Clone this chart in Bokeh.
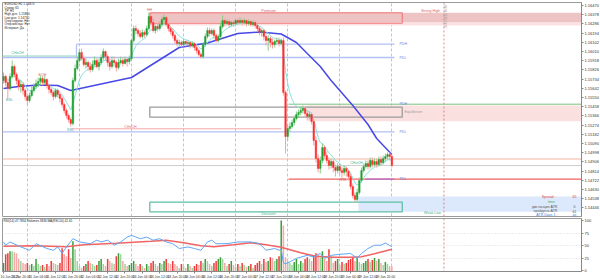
import numpy as np
import pandas as pd
from math import pi
from bokeh.plotting import figure
from bokeh.layouts import column
from bokeh.models import Range1d, FixedTicker, PrintfTickFormatter, Label, Span, ColumnDataSource
from bokeh.embed import file_html
from bokeh.resources import INLINE

# ---------------- data (EURUSD, H1) ----------------
first_open = 1.1572
close = [1.1576,1.1570,1.1564,1.1576,1.1586,1.1578,1.1572,1.1566,1.1568,1.1562,
         1.1556,1.1552,1.1557,1.1562,1.1566,1.1569,1.1571,1.1574,1.1570,1.1573,
         1.1567,1.1563,1.1560,1.1556,1.1562,1.1558,1.1554,1.1548,1.1542,1.1537,
         1.1533,1.1529,1.1572,1.1584,1.1592,1.1600,1.1594,1.1588,1.1590,1.1586,
         1.1583,1.1588,1.1592,1.1586,1.1590,1.1595,1.1601,1.1596,1.1590,1.1586,
         1.1592,1.1590,1.1585,1.1590,1.1592,1.1589,1.1593,1.1591,1.1594,1.1612,
         1.1624,1.1622,1.1619,1.1616,1.1620,1.1618,1.1624,1.1636,1.1630,1.1622,
         1.1626,1.1624,1.1628,1.1633,1.1635,1.1628,1.1624,1.1621,1.1617,1.1612,
         1.1609,1.1610,1.1608,1.1611,1.1609,1.1610,1.1607,1.1609,1.1605,1.1602,
         1.1598,1.1596,1.1608,1.1616,1.1622,1.1619,1.1622,1.1617,1.1612,1.1616,
         1.1626,1.1632,1.1629,1.1631,1.1628,1.1630,1.1629,1.1632,1.1630,1.1632,
         1.1630,1.1632,1.1629,1.1631,1.1628,1.1630,1.1627,1.1624,1.1620,1.1622,
         1.1616,1.1612,1.1614,1.1610,1.1608,1.1611,1.1612,1.1609,1.1612,1.1560,
         1.1516,1.1524,1.1526,1.1530,1.1534,1.1538,1.1540,1.1542,1.1544,1.1539,
         1.1536,1.1538,1.1531,1.1512,1.1494,1.1484,1.1492,1.1505,1.1497,1.1492,
         1.1487,1.1491,1.1485,1.1482,1.1486,1.1482,1.1480,1.1484,1.1481,1.1476,
         1.1466,1.1457,1.1453,1.1460,1.1472,1.1482,1.1486,1.1489,1.1486,1.1492,
         1.1488,1.1491,1.1488,1.1493,1.1490,1.1494,1.1496,1.1498,1.1496,1.1487]
high = [1.1580,1.1578,1.1572,1.1579,1.1592,1.1588,1.1580,1.1574,1.1572,1.1570,
        1.1564,1.1558,1.1560,1.1566,1.1569,1.1573,1.1575,1.1577,1.1576,1.1577,
        1.1574,1.1569,1.1565,1.1562,1.1564,1.1564,1.1560,1.1556,1.1550,1.1544,
        1.1539,1.1535,1.1575,1.1588,1.1596,1.1603,1.1604,1.1597,1.1594,1.1592,
        1.1590,1.1592,1.1596,1.1594,1.1594,1.1598,1.1604,1.1602,1.1598,1.1594,
        1.1596,1.1596,1.1592,1.1594,1.1596,1.1595,1.1596,1.1595,1.1597,1.1614,
        1.1627,1.1627,1.1624,1.1622,1.1623,1.1622,1.1627,1.1640,1.1639,1.1634,
        1.1628,1.1629,1.1631,1.1636,1.1638,1.1637,1.1630,1.1626,1.1624,1.1619,
        1.1614,1.1613,1.1612,1.1613,1.1612,1.1612,1.1611,1.1611,1.1610,1.1607,
        1.1604,1.1600,1.1610,1.1619,1.1625,1.1625,1.1624,1.1624,1.1619,1.1618,
        1.1630,1.1637,1.1634,1.1633,1.1633,1.1632,1.1632,1.1634,1.1634,1.1635,
        1.1634,1.1634,1.1633,1.1633,1.1632,1.1632,1.1632,1.1629,1.1626,1.1624,
        1.1623,1.1618,1.1617,1.1616,1.1614,1.1613,1.1615,1.1615,1.1614,1.1615,
        1.1562,1.1528,1.1530,1.1533,1.1537,1.1541,1.1543,1.1546,1.1547,1.1546,
        1.1542,1.1541,1.1540,1.1533,1.1516,1.1498,1.1496,1.1509,1.1507,1.1501,
        1.1495,1.1494,1.1493,1.1488,1.1489,1.1489,1.1485,1.1487,1.1486,1.1483,
        1.1479,1.1469,1.1460,1.1464,1.1475,1.1485,1.1489,1.1492,1.1492,1.1495,
        1.1495,1.1494,1.1494,1.1496,1.1496,1.1497,1.1499,1.1500,1.1500,1.1498]
low = [1.1569,1.1566,1.1554,1.1562,1.1574,1.1575,1.1568,1.1562,1.1560,1.1558,
       1.1552,1.1547,1.1550,1.1555,1.1560,1.1564,1.1566,1.1568,1.1567,1.1568,
       1.1564,1.1559,1.1557,1.1552,1.1554,1.1555,1.1550,1.1545,1.1539,1.1534,
       1.1530,1.1526,1.1527,1.1570,1.1582,1.1590,1.1592,1.1586,1.1584,1.1582,
       1.1580,1.1581,1.1586,1.1584,1.1582,1.1588,1.1592,1.1592,1.1586,1.1582,
       1.1584,1.1586,1.1581,1.1583,1.1588,1.1586,1.1588,1.1586,1.1588,1.1592,
       1.1610,1.1618,1.1616,1.1614,1.1614,1.1615,1.1616,1.1622,1.1627,1.1620,
       1.1619,1.1621,1.1622,1.1626,1.1630,1.1626,1.1621,1.1618,1.1614,1.1609,
       1.1606,1.1606,1.1605,1.1606,1.1606,1.1607,1.1604,1.1605,1.1602,1.1599,
       1.1596,1.1594,1.1594,1.1606,1.1614,1.1616,1.1617,1.1614,1.1610,1.1610,
       1.1614,1.1624,1.1626,1.1627,1.1625,1.1626,1.1626,1.1627,1.1628,1.1628,
       1.1627,1.1628,1.1626,1.1627,1.1626,1.1626,1.1624,1.1621,1.1617,1.1616,
       1.1612,1.1607,1.1602,1.1605,1.1604,1.1605,1.1608,1.1606,1.1607,1.1557,
       1.1499,1.1512,1.1521,1.1524,1.1527,1.1532,1.1535,1.1537,1.1539,1.1536,
       1.1533,1.1533,1.1528,1.1507,1.1490,1.1480,1.1479,1.1489,1.1494,1.1489,
       1.1483,1.1484,1.1480,1.1476,1.1479,1.1478,1.1474,1.1477,1.1476,1.1472,
       1.1463,1.1454,1.1450,1.1451,1.1458,1.1470,1.1480,1.1484,1.1483,1.1484,
       1.1485,1.1486,1.1485,1.1486,1.1487,1.1488,1.1491,1.1493,1.1492,1.1485]
volume = [6400,13600,14400,16000,16000,15200,14400,9600,8000,6400,
          5600,6400,4800,5600,4000,9600,5600,4000,4800,3200,
          5600,4000,8000,6400,5600,4800,6400,18400,13600,12000,
          17600,10400,24000,17600,8000,4000,2400,4000,5600,8000,
          6400,5600,4000,4800,8000,9600,5600,4000,9600,8000,
          6400,5600,12000,14400,13600,8000,5600,4000,4800,6400,
          8000,5600,4000,5600,4000,2400,5600,4000,6400,8000,
          5600,4000,6400,5600,8000,9600,6400,5600,8000,5600,
          4000,2400,5600,4000,2400,5600,4000,2400,4000,5600,
          4800,8000,6400,9600,8000,5600,4000,6400,8000,9600,
          11200,9600,6400,4000,5600,8000,4800,3200,5600,4000,
          6400,4800,3200,4000,5600,2400,4800,6400,8000,5600,
          9600,7200,8000,11200,10400,8000,9600,12000,40800,36800,
          11200,8000,6400,4800,7200,9600,5600,8000,6400,9600,
          11200,9600,8000,12800,14400,13600,11200,16000,9600,8000,
          17600,12000,6400,8000,9600,4800,7200,5600,6400,8800,
          9600,11200,8000,10400,7200,5600,6400,8000,9600,7200,
          8800,10400,8000,9600,6400,4800,7200,5600,4000,3836]

# slow moving average (higher-timeframe, sampled)
ma_bar = [0, 7, 16, 25, 31, 59, 81, 94, 108, 118, 128, 135, 140, 146, 151, 155, 161, 168, 172, 179]
ma_val = [1.1564, 1.1566, 1.15675, 1.1567, 1.1562, 1.1575, 1.1605, 1.16095, 1.1619, 1.16205,
          1.16185, 1.1610, 1.1599, 1.1586, 1.1572, 1.1562, 1.1547, 1.1528, 1.1514, 1.1498]

# oscillator panel
rsi_bar = [0, 1, 3, 8, 12, 15, 20, 23, 25, 27, 29, 32, 35, 40, 43, 45, 48, 51, 54, 57, 59, 63, 66, 69,
           72, 75, 78, 81, 85, 88, 91, 94, 96, 98, 103, 108, 114, 118, 121, 125, 127, 128, 129, 130,
           132, 135, 140, 143, 146, 148, 151, 155, 160, 163, 165, 168, 171, 174, 176, 179]
rsi_val = [57.5, 51, 57.5, 47.6, 41, 54, 44.5, 41, 47.6, 34.7, 47.6, 64, 57.5, 54, 61, 57.5, 61, 51,
           57.5, 67, 70.6, 64, 67, 61, 64, 57.5, 54, 44.5, 47.6, 44.5, 41, 57.5, 61, 54, 54, 57.5,
           57.5, 54, 41, 44.5, 41, 43, 16, 14, 18, 25, 31, 28, 34.7, 25, 31, 33, 34.7, 25, 34.7,
           44.5, 51, 51, 55.5, 47.8]
rsima_bar = [0, 14, 29, 37, 52, 68, 75, 83, 91, 97, 106, 114, 121, 128, 137, 144, 152, 160, 165, 171, 179]
rsima_val = [49, 50, 48, 52, 55, 59, 61, 56, 50, 48, 52, 56, 52, 47, 36, 29, 27, 27, 28, 34, 43]

price_ticks = [1.16470, 1.16378, 1.16286, 1.16194, 1.16102, 1.16010, 1.15918, 1.15826,
               1.15734, 1.15642, 1.15550, 1.15458, 1.15366, 1.15274, 1.15182, 1.15090,
               1.14998, 1.14906, 1.14814, 1.14722, 1.14630, 1.14538, 1.14446]
osc_ticks = [0, 25, 50, 75, 100]
time_bars = list(range(0, 177, 8))
time_labels = ["10 Jun 2025", "10 Jun 20:00", "11 Jun 04:00", "11 Jun 12:00", "11 Jun 20:00",
               "12 Jun 04:00", "12 Jun 12:00", "12 Jun 20:00", "13 Jun 04:00", "13 Jun 12:00",
               "13 Jun 20:00", "16 Jun 04:00", "16 Jun 12:00", "16 Jun 20:00", "17 Jun 04:00",
               "17 Jun 12:00", "17 Jun 20:00", "18 Jun 04:00", "18 Jun 12:00", "18 Jun 20:00",
               "19 Jun 04:00", "19 Jun 12:00", "19 Jun 20:00"]
grid_bars = [11, 35, 59, 83, 107, 131, 155, 179]
future_bar = 203

# price levels / zones
premium_top, premium_bot, premium_band, premium_soft = 1.16397, 1.16293, 1.16303, 1.16270
pdh_1, pdl_1, choch_up = 1.16083, 1.15950, 1.15965
pdh_2, pdl_2, choch_dn = 1.15483, 1.15207, 1.15237
supply_top, supply_bot = 1.15470, 1.15313
equil_top, equil_bot = 1.15453, 1.15353
ssl_level = 1.14733
disc_top, disc_bot = 1.14503, 1.14407
demand_top, demand_bot = 1.14560, 1.14407
ask_price, bid_price = 1.14935, 1.14870
spread_pts = 65

FONT = "Liberation Sans"
N = len(close)
bars = np.arange(N)
opens = [first_open] + close[:-1]
X0, X1 = -0.46, 266.4

def bx(px):      # annotation placement: reference pixel column -> bar axis
    return (px - 3) / 2.17
def py_p(py):    # annotation placement: reference pixel row -> price axis
    return 1.1652 - py / 10000
def py_o(py):    # annotation placement: reference pixel row -> oscillator axis
    return (271 - py) / 0.51

# ---------------- main price panel ----------------
p = figure(frame_width=579, frame_height=214, x_range=Range1d(X0, X1), y_range=Range1d(1.1436, 1.1650),
           output_backend="svg", toolbar_location=None, x_axis_location=None, y_axis_location="right",
           min_border=0, min_border_left=2, min_border_top=2, min_border_bottom=1, min_border_right=0)
p.outline_line_color = "#9a9a9a"
p.background_fill_color = "white"
p.border_fill_color = "white"
p.ygrid.visible = False
p.xgrid.ticker = FixedTicker(ticks=grid_bars)
p.xgrid.grid_line_color = "#c4c4c4"
p.xgrid.grid_line_dash = "3 2"
ya = p.yaxis[0]
ya.ticker = FixedTicker(ticks=price_ticks)
ya.formatter = PrintfTickFormatter(format="%.5f")
ya.major_label_text_font_size = "4px"
ya.major_label_text_font = FONT
ya.major_label_text_color = "#333333"
ya.major_label_standoff = 1
ya.major_tick_out = 2
ya.major_tick_in = 0
ya.minor_tick_line_color = None
ya.axis_line_color = "#888888"
ya.major_tick_line_color = "#888888"

# zones
p.quad(left=bx(149.3), right=X1, bottom=premium_soft, top=premium_band, fill_color="#fbe1e1", line_color=None)
p.quad(left=bx(149.3), right=X1, bottom=premium_band, top=premium_top, fill_color="#eec3c3", line_color=None)
p.quad(left=bx(306), right=X1, bottom=supply_bot, top=supply_top, fill_color="#fbe0e0", line_color=None)
p.quad(left=bx(358), right=X1, bottom=demand_bot, top=demand_top, fill_color="#dce8fb", line_color=None)
p.quad(left=bx(149.3), right=bx(401.8), bottom=premium_bot, top=premium_top, fill_color=None,
       line_color="#f07070", line_width=1)
p.quad(left=bx(149.3), right=bx(401.8), bottom=equil_bot, top=equil_top, fill_color=None,
       line_color="#9c9c9c", line_width=1.3)
p.quad(left=bx(149.3), right=bx(401.8), bottom=disc_bot, top=disc_top, fill_color=None,
       line_color="#5fc0a5", line_width=1.3)

# horizontal levels
p.segment(x0=[bx(76), X0, X0, bx(76)], y0=[pdh_1, pdl_1, pdl_2, pdh_1],
          x1=[bx(394), bx(394), bx(394), bx(76)], y1=[pdh_1, pdl_1, pdl_2, pdl_1],
          line_color="#b3c1f4", line_width=1.3)
p.segment(x0=[X0], y0=[choch_up], x1=[bx(76)], y1=[choch_up], line_color="#8fd6c0", line_width=1)
p.segment(x0=[bx(71)], y0=[choch_dn], x1=[bx(281)], y1=[choch_dn], line_color="#f6a8a8", line_width=1)
p.segment(x0=[bx(288)], y0=[pdh_2], x1=[X1], y1=[pdh_2], line_color="#7cc07c", line_width=1)
p.segment(x0=[bx(288)], y0=[ssl_level], x1=[X1], y1=[ssl_level], line_color="#f06060", line_width=1.3)
p.segment(x0=[bx(365)], y0=[ssl_level], x1=[bx(394)], y1=[ssl_level], line_color="#b070d0", line_width=1.3)
p.segment(x0=[X0], y0=[ask_price], x1=[X1], y1=[ask_price], line_color="#f5b3a3", line_width=1)
p.segment(x0=[X0], y0=[bid_price], x1=[X1], y1=[bid_price], line_color="#cfcfcf", line_width=1)

# moving averages
ema = pd.Series(close).ewm(span=8, adjust=False).mean().values
p.line(ma_bar, ma_val, line_color="#4848e6", line_width=1.5)
p.line(bars, ema, line_color="#86e2d8", line_width=1)

# candles
up = [c >= o for c, o in zip(close, opens)]
src = ColumnDataSource(dict(
    x=bars, h=high, l=low,
    top=[max(o, c) for o, c in zip(opens, close)],
    bot=[min(o, c) for o, c in zip(opens, close)],
    body=["#23a035" if u else "#ff2e2e" for u in up],
    wick=["#86cc86" if u else "#f7a0a0" for u in up]))
p.segment(x0="x", y0="h", x1="x", y1="l", source=src, line_color="wick", line_width=1)
p.vbar(x="x", width=0.75, top="top", bottom="bot", source=src, fill_color="body", line_color="body", line_width=0.4)

p.add_layout(Span(location=future_bar, dimension="height", line_color="#e08585", line_dash="2 2", line_width=1))

def lab(fig, x, y, text, color, size="3.6px", align="left", base="middle", **kw):
    fig.add_layout(Label(x=x, y=y, text=text, text_color=color, text_font_size=size, text_font=FONT,
                         text_align=align, text_baseline=base, **kw))

header = ["EURUSD,H1 1.14870", "Спред: 65", "TF: H1", "High дня: 1.15890", "Low дня: 1.14730",
          "Откр.недели: Нет", "Откр.месяца: Нет", "Интервал: Да"]
for i, t in enumerate(header):
    lab(p, bx(4), py_p(3.4 + 3.35 * i), t, "#222222", size="3.1px")

lab(p, bx(149), py_p(9), "HH", "#e06060", align="center")
lab(p, bx(268), py_p(10.3), "Premium", "#e06060", align="center")
lab(p, bx(430), py_p(10.3), "Strong High", "#e06060", align="center")
lab(p, bx(399), pdh_1, "PDH", "#7080e0")
lab(p, bx(399), pdl_1, "PDL", "#7080e0")
lab(p, bx(17), py_p(52.8), "CHoCH", "#3fb88a", align="center")
lab(p, bx(42), py_p(74.5), "EQH", "#e06060", align="center")
lab(p, bx(9), py_p(99.5), "BSL", "#4aa8a0", align="center")
lab(p, bx(70), py_p(129.5), "SSL", "#4aa8a0", align="center")
lab(p, bx(130), py_p(126.3), "CHoCH", "#e07070", align="center")
lab(p, bx(399), pdh_2, "PDH", "#7080e0")
lab(p, bx(404), py_p(111.5), "Equilibrium", "#a0a0a0")
lab(p, bx(399), pdl_2, "PDL", "#7080e0")
lab(p, bx(356), py_p(162), "CHoCH", "#3fb88a", align="center")
lab(p, bx(343), py_p(179.5), "SSL", "#e06060", align="center")
lab(p, bx(399), ssl_level, "PDL", "#7080e0")
lab(p, bx(268), py_p(213), "Discount", "#3fb08a", align="center")
lab(p, bx(432), py_p(212.3), "Weak Low", "#3fb08a", align="center")
# info block
lab(p, bx(555), py_p(196.7), "Spread :", "#e04040", align="right")
lab(p, bx(574), py_p(195.5), str(spread_pts), "#e04040", align="center")
lab(p, bx(551), py_p(201.3), "time", "#3fae5a", align="center")
lab(p, bx(557), py_p(206), "дистанция ATR", "#555555", align="right")
lab(p, bx(574), py_p(206), "0", "#555555", align="center")
lab(p, bx(557), py_p(210.5), "пройдено ATR", "#555555", align="right")
lab(p, bx(574), py_p(210.5), "61", "#555555", align="center")
lab(p, bx(557), py_p(214.6), "ATR Days 1 :", "#3a7ae0", align="right")
lab(p, bx(574), py_p(214.6), "86", "#3a7ae0", align="center")
lab(p, bx(445), py_p(4), "20.06.2025 00:00", "#999999", size="3px", align="right", angle=pi / 2)

# ---------------- oscillator / volume panel ----------------
q = figure(frame_width=579, frame_height=53, x_range=p.x_range, y_range=Range1d(-1, 103.9),
           output_backend="svg", toolbar_location=None, y_axis_location="right",
           min_border=0, min_border_left=2, min_border_top=1, min_border_bottom=0, min_border_right=0)
q.outline_line_color = "#9a9a9a"
q.extra_y_ranges = {"vol": Range1d(-408, 42391)}
q.xgrid.ticker = FixedTicker(ticks=grid_bars)
q.xgrid.grid_line_color = "#c4c4c4"
q.xgrid.grid_line_dash = "3 2"
q.ygrid.ticker = FixedTicker(ticks=[25, 50, 75])
q.ygrid.grid_line_color = "#dddddd"
q.ygrid.grid_line_dash = "1 2"
qa = q.yaxis[0]
qa.ticker = FixedTicker(ticks=osc_ticks)
for ax in (qa, q.xaxis[0]):
    ax.major_label_text_font_size = "4px"
    ax.major_label_text_font = FONT
    ax.major_label_text_color = "#333333"
    ax.major_label_standoff = 1
    ax.major_tick_out = 2
    ax.major_tick_in = 0
    ax.minor_tick_line_color = None
    ax.axis_line_color = "#888888"
    ax.major_tick_line_color = "#888888"
xa = q.xaxis[0]
xa.ticker = FixedTicker(ticks=time_bars)
xa.major_label_overrides = {b: t for b, t in zip(time_bars, time_labels)}
xa.major_label_text_font_size = "3.4px"
xa.major_label_text_align = "left"

vcol = []
for i in range(N):
    more = i == 0 or volume[i] > volume[i - 1]
    if up[i]:
        vcol.append("#3d9e3d" if more else "#9dd59d")
    else:
        vcol.append("#f03c3c" if more else "#f6a9a9")
q.vbar(x=bars, width=0.7, top=volume, bottom=0, y_range_name="vol", fill_color=vcol, line_color=None)
q.line(rsima_bar, rsima_val, line_color="#f06464", line_width=1.5)
q.line(rsi_bar, rsi_val, line_color="#62a6f4", line_width=1)
q.add_layout(Span(location=future_bar, dimension="height", line_color="#e08585", line_dash="2 2", line_width=1))
lab(q, bx(3), py_o(220.3), "RSI(14) 47.7834  Volumes 3836  MA(RSI,50) 42.45", "#222222", size="3.1px")

layout = column(p, q, spacing=0)
open("out.html", "w").write(file_html(layout, INLINE))
